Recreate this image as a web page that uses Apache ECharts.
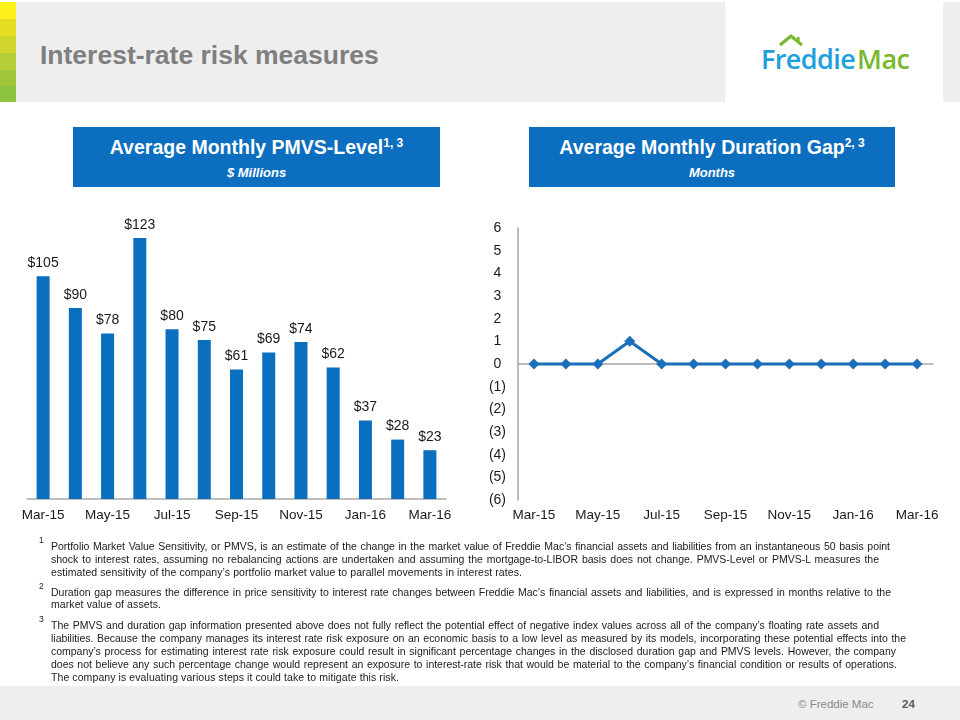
<!DOCTYPE html>
<html><head><meta charset="utf-8">
<script src="https://cdn.jsdelivr.net/npm/echarts@6/dist/echarts.min.js"></script>
<style>
html,body{margin:0;padding:0;background:#fff;}
#page{position:relative;width:960px;height:720px;overflow:hidden;font-family:"Liberation Sans",Arial,sans-serif;}
.abs{position:absolute;}
#chart{position:absolute;left:0;top:0;width:960px;height:720px;}
.box{position:absolute;top:127px;height:60px;background:#0b6ebf;color:#fff;text-align:center;}
.box .t{font-weight:bold;font-size:19.5px;margin-top:9px;line-height:22px;}
.box .t sup{font-size:12px;vertical-align:0;position:relative;top:-7px;}
.box .s{font-weight:bold;font-style:italic;font-size:13px;margin-top:4px;}
.fl{position:absolute;left:51px;height:13px;line-height:13px;font-size:10.5px;color:#1a1a1a;white-space:nowrap;}
.fn{position:absolute;left:39px;font-size:8.5px;color:#1a1a1a;}
</style></head>
<body>
<div id="page">
  <!-- header band -->
  <div class="abs" style="left:0;top:2px;width:725px;height:100px;background:#eeeeee;"></div>
  <div class="abs" style="left:943px;top:2px;width:17px;height:100px;background:#eeeeee;"></div>
  <div class="abs" style="left:0;top:2px;width:16px;height:17px;background:#fff21a;"></div>
  <div class="abs" style="left:0;top:19px;width:16px;height:17px;background:#e6de22;"></div>
  <div class="abs" style="left:0;top:36px;width:16px;height:17px;background:#cfd52d;"></div>
  <div class="abs" style="left:0;top:53px;width:16px;height:17px;background:#b6cd35;"></div>
  <div class="abs" style="left:0;top:70px;width:16px;height:16px;background:#a0c73b;"></div>
  <div class="abs" style="left:0;top:86px;width:16px;height:16px;background:#8cc23f;"></div>
  <div class="abs" style="left:40px;top:40px;font-size:26.5px;font-weight:bold;color:#7f7f7f;line-height:30px;">Interest-rate risk measures</div>
  <!-- logo -->
  <svg class="abs" style="left:770px;top:30px;" width="40" height="22">
    <polyline points="10,15 21,6 32,15" fill="none" stroke="#7ab82e" stroke-width="3.2" stroke-linejoin="miter"/>
    <rect x="27" y="7" width="2.6" height="5" fill="#7ab82e"/>
  </svg>
  <div class="abs" style="left:761px;top:44px;font-family:'Open Sans',sans-serif;font-weight:600;font-size:27px;line-height:30px;letter-spacing:-0.6px;"><span style="color:#1ea0dc;">Freddie</span><span style="color:#7ab82e;margin-left:2px;">Mac</span></div>

  <!-- blue headers -->
  <div class="box" style="left:73px;width:367px;"><div class="t">Average Monthly PMVS-Level<sup>1, 3</sup></div><div class="s">$ Millions</div></div>
  <div class="box" style="left:529px;width:366px;"><div class="t">Average Monthly Duration Gap<sup>2, 3</sup></div><div class="s">Months</div></div>

  <div id="chart"></div>

  <!-- footnotes -->
  <div class="fn" style="top:535px;">1</div>
  <div class="fn" style="top:581px;">2</div>
  <div class="fn" style="top:614px;">3</div>
  <div id="notes"></div>

  <!-- footer -->
  <div class="abs" style="left:0;top:686px;width:960px;height:34px;background:#eeeeee;"></div>
  <div class="abs" style="left:798px;top:697px;font-size:11.5px;color:#8a8a8a;line-height:14px;">© Freddie Mac</div>
  <div class="abs" style="left:902px;top:697px;font-size:11.5px;font-weight:bold;color:#595959;line-height:14px;">24</div>
</div>
<script>
// ---- data ----
const months = ['Mar-15','Apr-15','May-15','Jun-15','Jul-15','Aug-15','Sep-15','Oct-15','Nov-15','Dec-15','Jan-16','Feb-16','Mar-16'];
const pmvsLevel = [105, 90, 78, 123, 80, 75, 61, 69, 74, 62, 37, 28, 23];
const durationGap = [0, 0, 0, 1, 0, 0, 0, 0, 0, 0, 0, 0, 0];
const gapTicks = [-6,-5,-4,-3,-2,-1,0,1,2,3,4,5,6];

// ---- footnote lines ----
const noteLines = [
  ['Portfolio Market Value Sensitivity, or PMVS, is an estimate of the change in the market value of Freddie Mac\u2019s financial assets and liabilities from an instantaneous 50 basis point', 546, 890, true],
  ['shock to interest rates, assuming no rebalancing actions are undertaken and assuming the mortgage-to-LIBOR basis does not change.  PMVS-Level or PMVS-L measures the', 559, 879, true],
  ['estimated sensitivity of the company\u2019s portfolio market value to parallel movements in interest rates.', 572, 522, false],
  ['Duration gap measures the difference in price sensitivity to interest rate changes between Freddie Mac\u2019s financial assets and liabilities, and is expressed in months relative to the', 592, 891, true],
  ['market value of assets.', 604, 161, false],
  ['The PMVS and duration gap information presented above does not fully reflect the potential effect of negative index values across all of the company\u2019s floating rate assets and', 625, 879, true],
  ['liabilities. Because the company manages its interest rate risk exposure on an economic basis to a low level as measured by its models, incorporating these potential effects into the', 638, 906, true],
  ['company\u2019s process for estimating interest rate risk exposure could result in significant percentage changes in the disclosed duration gap and PMVS levels. However, the company', 651, 896, true],
  ['does not believe any such percentage change would represent an exposure to interest-rate risk that would be material to the company\u2019s financial condition or results of operations.', 664, 897, true],
  ['The company is evaluating various steps it could take to mitigate this risk.', 677, 399, false]
];
(function(){
  const host = document.getElementById('notes');
  const cv = document.createElement('canvas').getContext('2d');
  cv.font = '10.5px "Liberation Sans", Arial, sans-serif';
  noteLines.forEach(([txt, cy, end, just]) => {
    const d = document.createElement('div');
    d.className = 'fl';
    d.textContent = txt;
    const target = end - 51;
    d.style.top = (cy - 6.5) + 'px';
    d.style.width = target + 'px';
    const w = cv.measureText(txt).width;
    let ls = (target - w) / txt.length;
    if (just) { if (ls > 0) ls = 0; d.style.textAlign = 'justify'; d.style.textAlignLast = 'justify'; ls -= 0.02; }
    d.style.letterSpacing = ls.toFixed(3) + 'px';
    host.appendChild(d);
  });
})();

const chart = echarts.init(document.getElementById('chart'), null, {renderer:'canvas'});
const labelFont = {fontFamily:'"Liberation Sans", Arial, sans-serif', color:'#1a1a1a'};
chart.setOption({
  animation:false,
  grid:[
    {left:27, width:419, top:202, bottom:221},
    {left:518, width:415, top:228, bottom:220}
  ],
  xAxis:[
    {gridIndex:0, type:'category', data:months, axisTick:{show:false},
     axisLine:{lineStyle:{color:'#bfbfbf', width:2}},
     axisLabel:Object.assign({interval:1, fontSize:13.5, margin:9}, labelFont)},
    {gridIndex:1, type:'category', data:months, axisTick:{show:false},
     axisLine:{show:false, onZero:false},
     axisLabel:Object.assign({interval:1, fontSize:13.5, margin:8}, labelFont)},
    {gridIndex:1, type:'category', data:months, position:'bottom', axisTick:{show:false},
     axisLine:{show:true, onZero:true, lineStyle:{color:'#a6a6a6', width:1.5}},
     axisLabel:{show:false}}
  ],
  yAxis:[
    {gridIndex:0, type:'value', min:0, max:140, show:false, splitLine:{show:false}},
    {gridIndex:1, type:'value', min:gapTicks[0], max:gapTicks[gapTicks.length-1], interval:1,
     axisLine:{show:true, lineStyle:{color:'#a6a6a6', width:1.5}}, axisTick:{show:false}, splitLine:{show:false},
     axisLabel:Object.assign({fontSize:14, margin:12,
       formatter:v => v < 0 ? '{n|(' + (-v) + ')}' : '{p|' + v + '}',
       rich:{n:{fontSize:14, color:'#1a1a1a', fontFamily:'"Liberation Sans", Arial, sans-serif'},
             p:{fontSize:14, color:'#1a1a1a', fontFamily:'"Liberation Sans", Arial, sans-serif', padding:[0,4.7,0,0]}}}, labelFont)}
  ],
  series:[
    {type:'bar', xAxisIndex:0, yAxisIndex:0, data:pmvsLevel, barWidth:13,
     itemStyle:{color:'#0b6fc0'},
     label:Object.assign({show:true, position:'top', distance:6, fontSize:14, formatter:p => '$' + p.value}, labelFont)},
    {type:'line', xAxisIndex:1, yAxisIndex:1, data:durationGap,
     symbol:'diamond', symbolSize:11, lineStyle:{color:'#1a6fba', width:3},
     itemStyle:{color:'#1a6fba'}}
  ]
});
</script>
</body></html>
